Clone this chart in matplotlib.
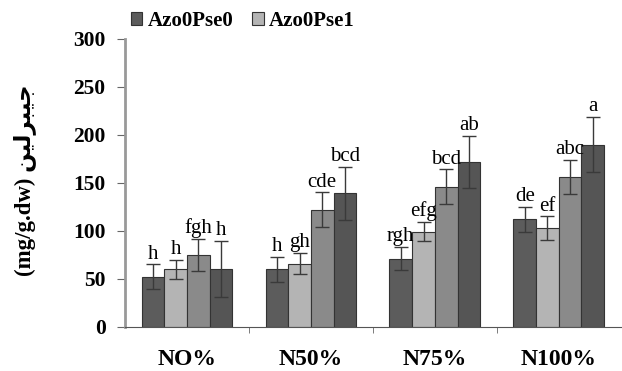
import matplotlib.pyplot as plt
import numpy as np

# ---- data ----
groups = ['NO%', 'N50%', 'N75%', 'N100%']
series = ['Azo0Pse0', 'Azo0Pse1', 'Azo1Pse0', 'Azo1Pse1']

vals = [
    [52, 60, 75, 60],
    [60, 66, 122, 139],
    [71, 99, 146, 172],
    [112, 103, 156, 190],
]
errs = [
    [13, 10, 17, 29],
    [13, 11, 18, 28],
    [12, 10, 18, 27],
    [13, 12, 18, 29],
]
letters = [
    ['h', 'h', 'fgh', 'h'],
    ['h', 'gh', 'cde', 'bcd'],
    ['rgh', 'efg', 'bcd', 'ab'],
    ['de', 'ef', 'abc', 'a'],
]

colors = ['#5c5c5c', '#b4b4b4', '#8a8a8a', '#555555']

# y label: Persian word written in presentation forms, visual order
fa_word = '\ufee6\ufef4\ufedf\ufeae\ufe92\ufef4\ufe9f'
ylab = '(mg/g.dw) ' + fa_word

serif = ['Liberation Serif', 'DejaVu Sans']

fig = plt.figure(figsize=(6.22, 3.71), dpi=100)
ax = fig.add_axes([0.201, 0.119, 0.797, 0.776])

x = np.arange(len(groups))
w = 0.183
vals = np.array(vals)
errs = np.array(errs)

for j in range(len(series)):
    pos = x + (j - 1.5) * w
    lab = series[j] if j < 2 else None
    ax.bar(pos, vals[:, j], w, color=colors[j], edgecolor='#333333',
           linewidth=0.8, label=lab, zorder=2)
    ax.errorbar(pos, vals[:, j], yerr=errs[:, j], fmt='none',
                ecolor='#3a3a3a', elinewidth=1.0, capsize=5, capthick=1.0, zorder=3)
    for i in range(len(groups)):
        ax.text(pos[i], vals[i, j] + errs[i, j] + 1, letters[i][j],
                ha='center', va='bottom', fontsize=15, family=serif)

ax.set_ylim(0, 300)
ax.set_xlim(-0.5, 3.5)
ax.set_yticks(range(0, 301, 50))
ax.set_xticks(x)
ax.set_xticklabels(groups)
ax.set_xticks([0.5, 1.5, 2.5], minor=True)
ax.tick_params(axis='x', which='major', length=0, pad=16)
ax.tick_params(axis='x', which='minor', length=4, color='#666666')
ax.tick_params(axis='y', length=6, color='#666666', pad=8)
for t in ax.get_yticklabels():
    t.set_family(serif)
    t.set_fontweight('bold')
    t.set_fontsize(15.5)
for t in ax.get_xticklabels():
    t.set_family(serif)
    t.set_fontweight('bold')
    t.set_fontsize(17)

ax.spines['top'].set_visible(False)
ax.spines['right'].set_visible(False)
ax.spines['left'].set_color('#999999')
ax.spines['left'].set_linewidth(2)
ax.spines['bottom'].set_color('#555555')

ax.set_ylabel(ylab, fontsize=16.5, fontweight='bold', family=serif)
ax.yaxis.set_label_coords(-0.18, 0.51)

leg = ax.legend(loc='lower left', bbox_to_anchor=(-0.005, 1.0), ncol=2, frameon=False,
                prop={'family': serif, 'weight': 'bold', 'size': 15},
                handlelength=0.55, handleheight=0.55, handletextpad=0.25,
                columnspacing=0.9, borderaxespad=0.0)

fig.savefig('out.png', dpi=100)
